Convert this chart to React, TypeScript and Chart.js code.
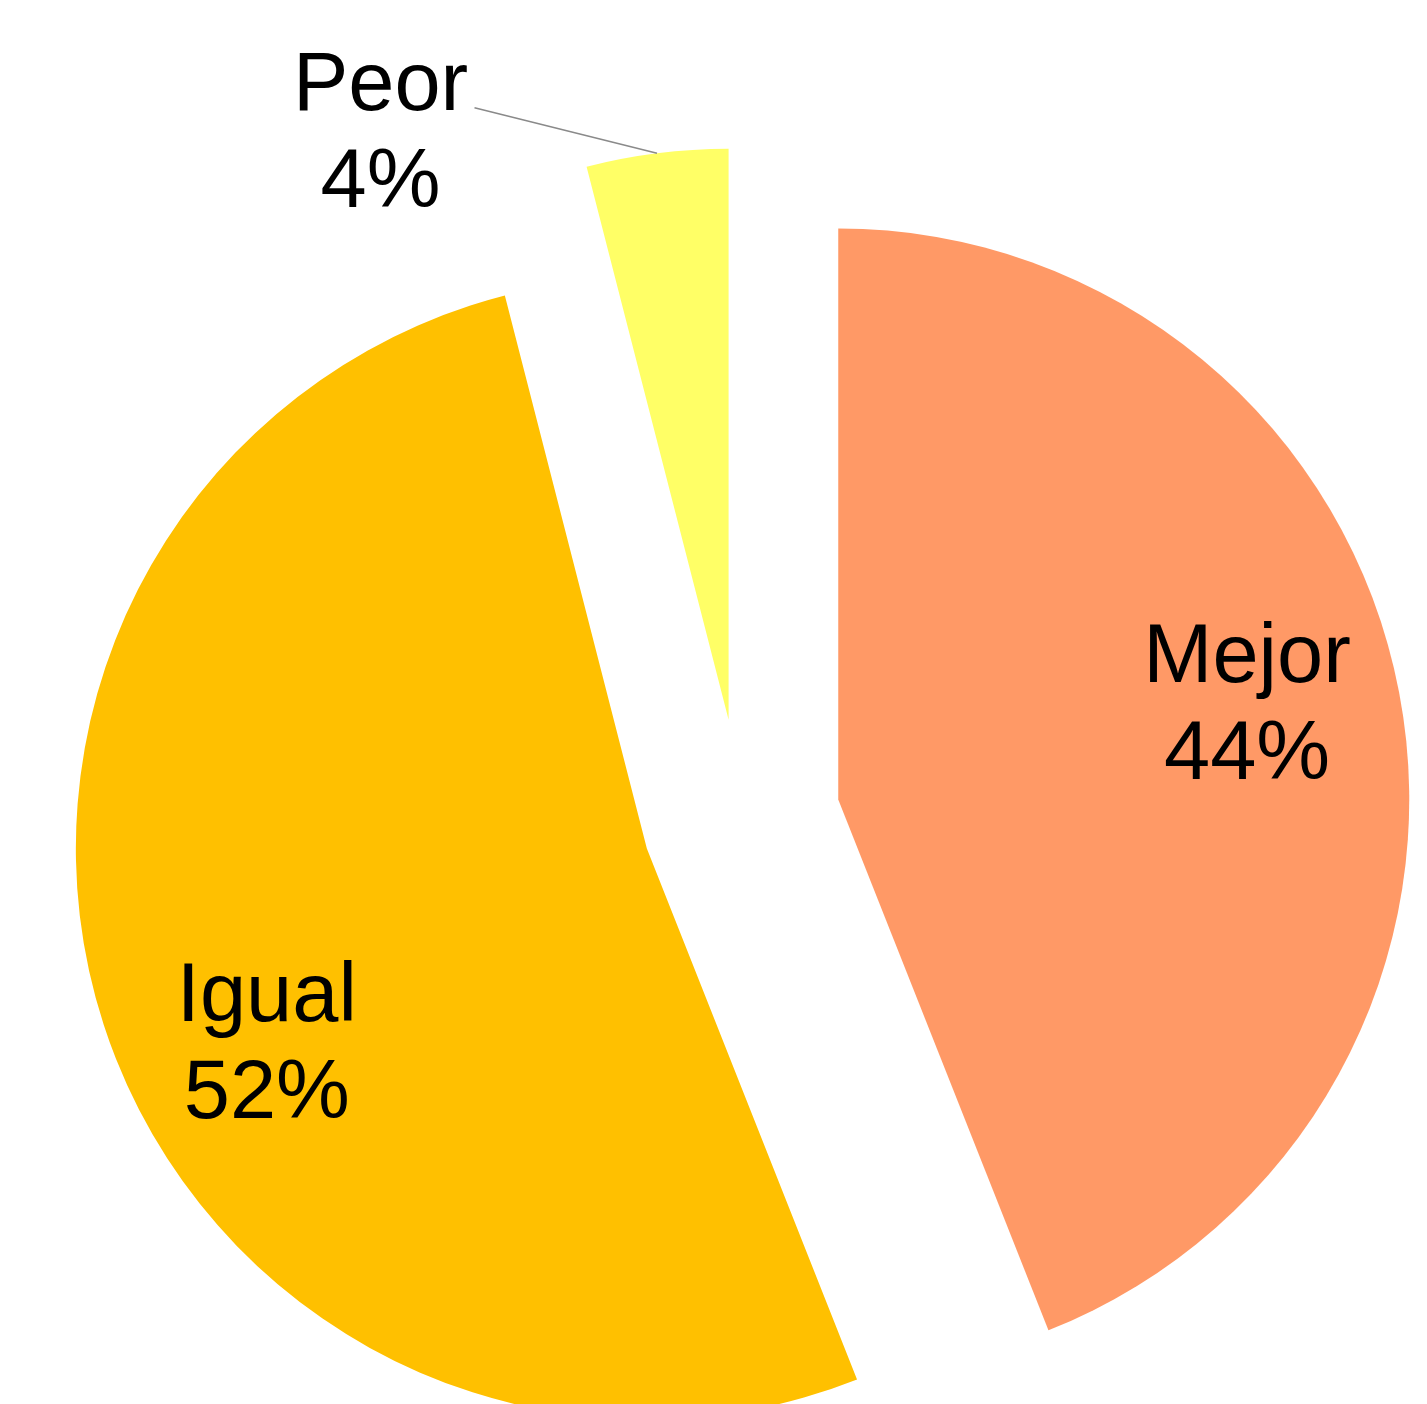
import React, { useEffect, useRef } from "react";
import { Chart, registerables } from "chart.js";

Chart.register(...registerables);

// ---- data ----
const categories = ["Mejor", "Igual", "Peor"];
const values = [44, 52, 4];
const colors = ["#FF9966", "#FFC000", "#FFFF66"];

// ---- layout / style constants (not data) ----
const EXPLODE = 99; // px each slice is pulled out along its mid-angle
const RADIUS = 571;
const FONT = '83px "Liberation Sans", Arial, sans-serif';
const LINE_GAP = 97;
// label anchor relative to the (exploded) slice centre, in units of the radius
const LABEL_POS: { fx: number; fy: number; leader?: { fx: number; fy: number } }[] = [
  { fx: 0.716, fy: -0.121 },
  { fx: -0.6655, fy: 0.387 },
  { fx: -0.6095, fy: -0.983, leader: { fx: -0.445, fy: -1.072 } },
];

const explodePlugin = {
  id: "explodeSlices",
  afterDatasetsUpdate(chart: any) {
    const meta = chart.getDatasetMeta(0);
    meta.data.forEach((arc: any) => {
      const mid = (arc.startAngle + arc.endAngle) / 2;
      arc.x += Math.cos(mid) * EXPLODE;
      arc.y += Math.sin(mid) * EXPLODE;
    });
  },
};

const labelPlugin = {
  id: "sliceLabels",
  afterDatasetsDraw(chart: any) {
    const ctx = chart.ctx as CanvasRenderingContext2D;
    const meta = chart.getDatasetMeta(0);
    const total = values.reduce((a, b) => a + b, 0);
    meta.data.forEach((arc: any, i: number) => {
      const { x, y, outerRadius, startAngle, endAngle } = arc;
      const p = LABEL_POS[i];
      const lx = x + p.fx * outerRadius;
      const ly = y + p.fy * outerRadius;
      ctx.save();
      if (p.leader) {
        const mid = (startAngle + endAngle) / 2;
        ctx.beginPath();
        ctx.moveTo(x + p.leader.fx * outerRadius, y + p.leader.fy * outerRadius);
        ctx.lineTo(x + Math.cos(mid) * outerRadius, y + Math.sin(mid) * outerRadius);
        ctx.strokeStyle = "#8a8a8a";
        ctx.lineWidth = 1.5;
        ctx.stroke();
      }
      ctx.font = FONT;
      ctx.fillStyle = "#000000";
      ctx.textAlign = "center";
      ctx.textBaseline = "alphabetic";
      const pct = Math.round((values[i] / total) * 100) + "%";
      ctx.fillText(categories[i], lx, ly - LINE_GAP / 2);
      ctx.fillText(pct, lx, ly + LINE_GAP / 2);
      ctx.restore();
    });
  },
};

export default function App() {
  const ref = useRef<HTMLCanvasElement | null>(null);

  useEffect(() => {
    if (!ref.current) return;
    const chart = new Chart(ref.current, {
      type: "pie",
      data: {
        labels: categories,
        datasets: [
          {
            data: values,
            backgroundColor: colors,
            borderWidth: 0,
            radius: RADIUS,
          } as any,
        ],
      },
      options: {
        responsive: false,
        maintainAspectRatio: false,
        devicePixelRatio: 1,
        animation: false,
        layout: { padding: { left: 55, right: 0, top: 232, bottom: 0 } },
        plugins: {
          legend: { display: false },
          tooltip: { enabled: false },
        },
      } as any,
      plugins: [explodePlugin, labelPlugin],
    });
    return () => chart.destroy();
  }, []);

  return (
    <div style={{ position: "absolute", left: 0, top: 0, width: 1427, height: 1404, background: "#ffffff" }}>
      <canvas ref={ref} width={1427} height={1404} style={{ width: 1427, height: 1404, display: "block" }} />
    </div>
  );
}
